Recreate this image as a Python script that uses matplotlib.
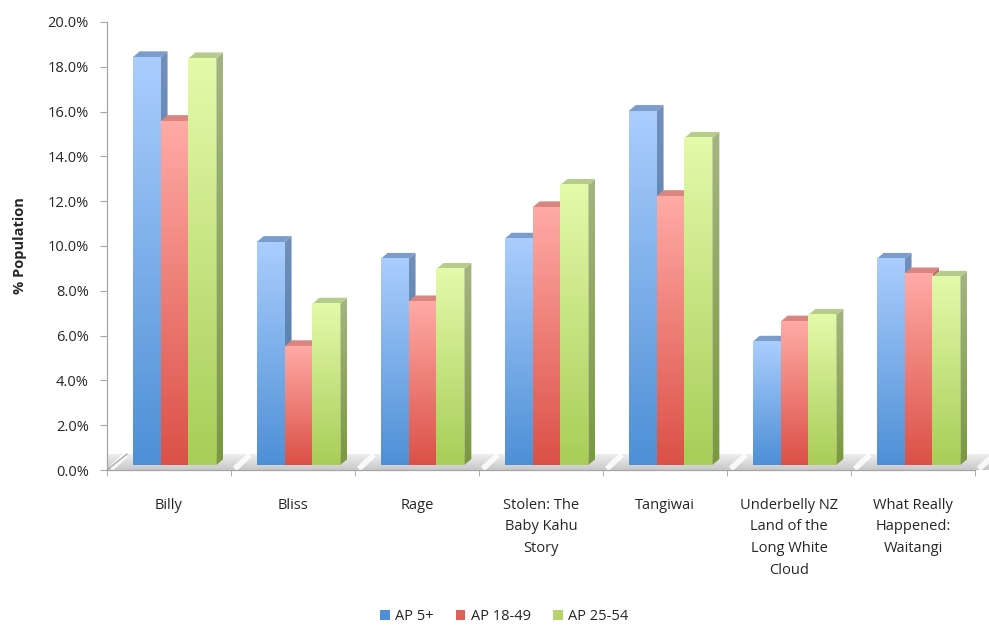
import numpy as np
import matplotlib
matplotlib.use("Agg")
import matplotlib.pyplot as plt
from matplotlib.colors import to_rgb
from matplotlib.patches import Polygon, Patch
from matplotlib.ticker import FuncFormatter, MultipleLocator

# data (percent of population)
categories = [
    "Billy",
    "Bliss",
    "Rage",
    "Stolen: The\nBaby Kahu\nStory",
    "Tangiwai",
    "Underbelly NZ\nLand of the\nLong White\nCloud",
    "What Really\nHappened:\nWaitangi",
]
series_names = ["AP 5+", "AP 18-49", "AP 25-54"]
ap_5 = [18.2, 9.95, 9.2, 10.1, 15.8, 5.5, 9.2]
ap_18_49 = [15.35, 5.3, 7.3, 11.5, 12.0, 6.4, 8.55]
ap_25_54 = [18.15, 7.2, 8.75, 12.5, 14.6, 6.7, 8.4]

# colours: (front top, front bottom, top face, side top, side bottom, legend)
styles = [
    ("#AACDFD", "#4E90D6", "#7B9DCC", "#7090BA", "#4A74A8", "#4F8FD8"),
    ("#FFAAA5", "#DB5147", "#D98580", "#C0706A", "#A84A42", "#E0615A"),
    ("#E3FAAA", "#A9CD58", "#B6CC8A", "#A3B57F", "#7A9A3C", "#B5D56A"),
]

BAR_W = 0.225
GAP_PX = (5.5, 5.0)     # shift of the bar fronts behind the axis plane
DEPTH_PX = (7.0, 6.0)   # bar depth
FLOOR_PX = (20.0, 16.0)
AXIS_COLOR = "#A6A6A6"
TEXT_COLOR = "#262626"
FONT_SIZE = 10.5

plt.rcParams["font.family"] = ["Open Sans", "DejaVu Sans"]

fig = plt.figure(figsize=(9.89, 6.28), dpi=100)
ax = fig.add_axes([107 / 989, 1 - 470 / 628, (975 - 107) / 989, (470 - 22) / 628])
ax.set_xlim(-0.5, len(categories) - 0.5)
ax.set_ylim(0, 20)

# pixels -> data units
p0 = ax.transData.transform((0, 0))
p1 = ax.transData.transform((1, 1))
sx, sy = p1[0] - p0[0], p1[1] - p0[1]
gx, gy = GAP_PX[0] / sx, GAP_PX[1] / sy
dx, dy = DEPTH_PX[0] / sx, DEPTH_PX[1] / sy
fx, fy = FLOOR_PX[0] / sx, FLOOR_PX[1] / sy


def gradient(top, bottom, n_steps=64):
    t = np.linspace(0, 1, n_steps)[:, None]
    c0, c1 = np.array(to_rgb(top)), np.array(to_rgb(bottom))
    return (c0 * (1 - t) + c1 * t)[:, None, :]


# floor with a soft gradient, lighter glare at each category boundary
n = len(categories)
floor = Polygon([(-0.5, 0), (n - 0.5, 0), (n - 0.5 + fx, fy), (-0.5 + fx, fy)],
                closed=True, facecolor="none", edgecolor="none", clip_on=False)
ax.add_patch(floor)
fim = ax.imshow(gradient("#EEEEEE", "#C8C8C8"), extent=(-0.5, n - 0.5 + fx, 0, fy),
                aspect="auto", interpolation="bilinear", zorder=1, clip_on=False)
fim.set_clip_path(floor)
for b in np.arange(-0.5, n, 1.0):
    ax.plot([b + 0.03, b + fx * 0.95], [0.05, fy * 0.95], color="white", lw=4,
            alpha=0.85, zorder=1.5, clip_on=False, solid_capstyle="butt")
ax.plot([-0.5, -0.5 + fx], [0, fy], color=AXIS_COLOR, lw=0.9, zorder=1.6, clip_on=False)

values = [ap_5, ap_18_49, ap_25_54]
z = 2
for i in range(n):
    for j, vals in enumerate(values):
        v = vals[i]
        front_top, front_bot, top_c, side_top, side_bot, _ = styles[j]
        x0 = i - 1.5 * BAR_W + j * BAR_W + gx
        x1 = x0 + BAR_W
        y0, y1 = gy, v + gy
        # side face (gradient clipped to parallelogram)
        side = Polygon([(x1, y0), (x1 + dx, y0 + dy), (x1 + dx, y1 + dy), (x1, y1)],
                       closed=True, facecolor="none", edgecolor="none")
        ax.add_patch(side)
        im = ax.imshow(gradient(side_top, side_bot), extent=(x1, x1 + dx, y0, y1 + dy),
                       aspect="auto", interpolation="bilinear", zorder=z)
        im.set_clip_path(side)
        # top face
        ax.add_patch(Polygon([(x0, y1), (x1, y1), (x1 + dx, y1 + dy), (x0 + dx, y1 + dy)],
                             closed=True, facecolor=top_c, edgecolor="none", zorder=z))
        # front face
        ax.imshow(gradient(front_top, front_bot), extent=(x0, x1, y0, y1),
                  aspect="auto", interpolation="bilinear", zorder=z + 0.5)
        z += 1

ax.set_xlim(-0.5, n - 0.5)
ax.set_ylim(0, 20)

# axes styling
for s in ["top", "right"]:
    ax.spines[s].set_visible(False)
for s in ["left", "bottom"]:
    ax.spines[s].set_color(AXIS_COLOR)
    ax.spines[s].set_linewidth(0.9)

ax.yaxis.set_major_locator(MultipleLocator(2))
ax.yaxis.set_major_formatter(FuncFormatter(lambda v, p: f"{v:.1f}%"))
ax.tick_params(axis="y", direction="out", length=5, color=AXIS_COLOR,
               labelsize=FONT_SIZE, labelcolor=TEXT_COLOR, pad=8)

ax.set_xticks(range(n))
ax.set_xticklabels(categories, fontsize=FONT_SIZE, color=TEXT_COLOR, linespacing=1.6,
                   va="top")
ax.set_xticks(np.arange(-0.5, n, 1.0), minor=True)
ax.tick_params(axis="x", which="major", length=0, pad=20)
ax.tick_params(axis="x", which="minor", direction="out", length=4, color=AXIS_COLOR)

ax.set_ylabel("% Population", fontsize=FONT_SIZE, fontweight="bold", color=TEXT_COLOR,
              labelpad=15)

handles = [Patch(facecolor=s[5], edgecolor="none") for s in styles]
fig.legend(handles, series_names, loc="center", bbox_to_anchor=(0.51, 0.018),
           ncol=3, frameon=False, fontsize=FONT_SIZE, handlelength=0.65,
           handleheight=0.65, handletextpad=0.4, columnspacing=1.5,
           labelcolor=TEXT_COLOR)

fig.savefig("out.png", dpi=100)
